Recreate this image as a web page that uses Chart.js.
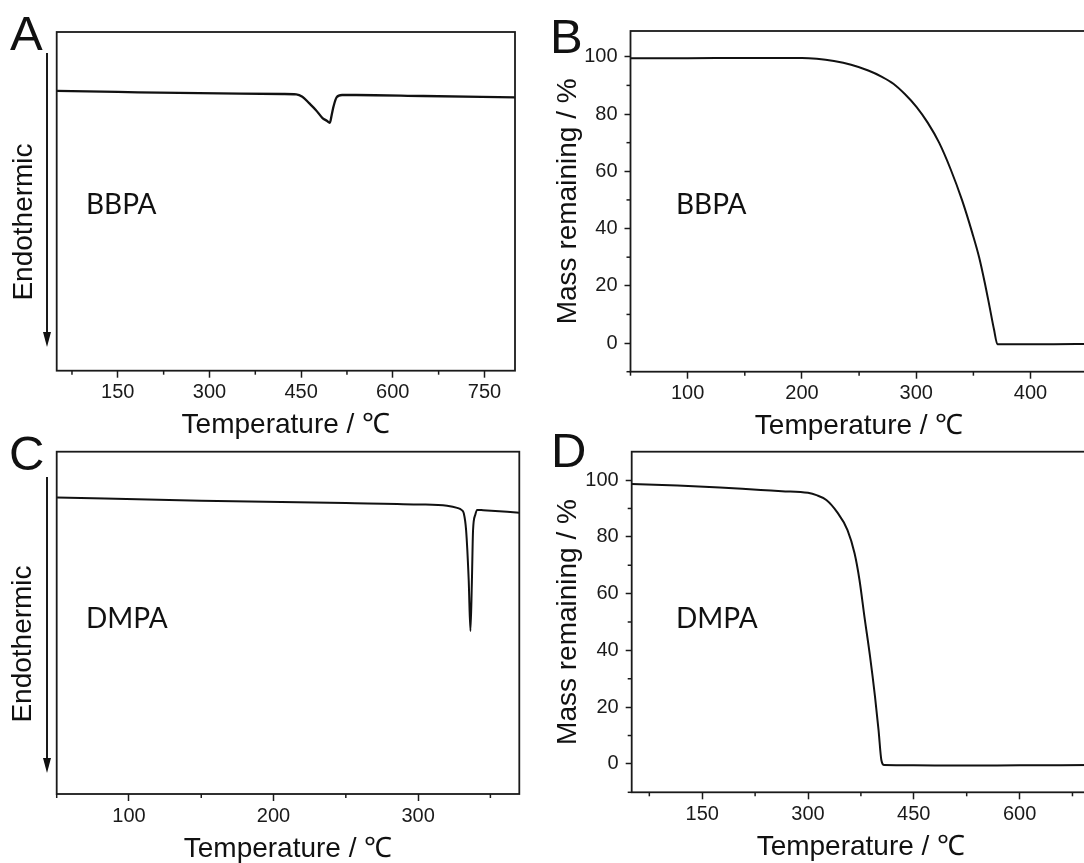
<!DOCTYPE html>
<html lang="en">
<head>
<meta charset="UTF-8">
<title>BBPA / DMPA thermal analysis</title>
<script src="https://cdn.jsdelivr.net/npm/chart.js"></script>
<style>
  html, body { margin: 0; padding: 0; background: #fff; overflow: hidden; }
  #page { position: relative; width: 1084px; height: 863px; overflow: hidden; background: #fff; }
  canvas { position: absolute; }
</style>
</head>
<body>
<div id="page">
  <canvas id="chartA" width="540" height="440" style="left:0;top:0"></canvas>
  <canvas id="chartB" width="560" height="440" style="left:540px;top:0"></canvas>
  <canvas id="chartC" width="540" height="433" style="left:0;top:430px"></canvas>
  <canvas id="chartD" width="560" height="433" style="left:540px;top:430px"></canvas>
</div>
<script>
// A: DSC of BBPA (heat flow, arbitrary units: 0 = bottom of frame, 100 = top)
const dscBbpaTemp = [50, 150, 250, 350, 420, 442, 452, 463, 474, 485, 492, 497, 500, 503, 508, 517, 540, 650, 800]
const dscBbpaFlow = [82.6, 82.3, 82.0, 81.8, 81.7, 81.6, 80.9, 79.0, 77.0, 74.6, 73.8, 73.2, 75.5, 78.0, 80.7, 81.4, 81.4, 81.1, 80.7]

// B: TGA of BBPA
const tgaBbpaTemp = [50, 100, 150, 200, 213, 228, 243, 258, 270, 280, 290, 300, 310, 320, 330, 340, 349, 355, 360, 364, 368, 371, 380, 420, 450]
const tgaBbpaMass = [99.5, 99.5, 99.6, 99.6, 99.3, 98.5, 97.2, 95.2, 93.0, 90.6, 87.0, 82.6, 77.0, 70.0, 60.8, 50.0, 38.5, 30.0, 21.0, 13.0, 4.8, -0.4, -0.4, -0.4, -0.3]

// C: DSC of DMPA
const dscDmpaTemp = [50, 150, 250, 300, 320, 327, 330, 331.6, 333.2, 335, 336.2, 337.2, 338, 339.5, 340.8, 345, 370]
const dscDmpaFlow = [86.6, 85.7, 85.0, 84.6, 84.2, 83.6, 83.0, 82.0, 77.1, 62.5, 47.6, 62.0, 77.0, 81.5, 83.0, 82.9, 82.2]

// D: TGA of DMPA
const tgaDmpaTemp = [50, 115, 175, 233, 263, 300, 312, 326, 341, 356, 366, 373, 380, 388, 395, 400, 404, 408, 450, 510, 600, 700]
const tgaDmpaMass = [98.6, 98.1, 97.4, 96.5, 96.1, 95.5, 94.7, 93.0, 88.8, 82.4, 74.2, 64.8, 51.9, 37.8, 23.7, 12.0, 1.4, -0.4, -0.5, -0.6, -0.5, -0.4]

// tick labels
const ticksA = [150, 300, 450, 600, 750]
const minorA = [75, 225, 375, 525, 675]
const ticksB = [100, 200, 300, 400]
const minorB = [50, 150, 250, 350]
const ticksC = [100, 200, 300]
const minorC = [50, 150, 250, 350]
const ticksD = [150, 300, 450, 600]
const minorD = [75, 225, 375, 525, 675]
const massTicks = [0, 20, 40, 60, 80, 100]
const massMinor = [-10, 10, 30, 50, 70, 90]

const SANS = '"Liberation Sans", Arimo, Arial, sans-serif'
const INK = '#1a1a1a'
Chart.defaults.font.family = SANS
Chart.defaults.color = INK

// frame, minor ticks, panel letter, sample name, endothermic arrow
const decor = {
  id: 'decor',
  afterDraw(chart, args, o) {
    const { ctx, chartArea: a } = chart
    const x = chart.scales.x, y = chart.scales.y
    ctx.save()
    ctx.strokeStyle = INK
    ctx.lineWidth = 1.5
    o.xMinor.forEach(v => {
      const p = x.getPixelForValue(v)
      ctx.beginPath(); ctx.moveTo(p, a.bottom); ctx.lineTo(p, a.bottom + 4); ctx.stroke()
    })
    ;(o.yMinor || []).forEach(v => {
      const p = y.getPixelForValue(v)
      ctx.beginPath(); ctx.moveTo(a.left - 4, p); ctx.lineTo(a.left, p); ctx.stroke()
    })
    ctx.lineWidth = 1.8
    ctx.strokeRect(a.left, a.top, a.right - a.left, a.bottom - a.top)

    ctx.fillStyle = '#111'
    ctx.textBaseline = 'alphabetic'
    ctx.textAlign = 'left'
    ctx.font = '49px ' + SANS
    ctx.fillText(o.letter, o.letterX, o.letterY)
    ctx.font = '28px Lato, "Open Sans", sans-serif'
    ctx.fillText(o.sample, o.sampleX, o.sampleY)

    if (o.arrow) {
      const [ax, y0, y1] = o.arrow
      ctx.lineWidth = 2
      ctx.beginPath(); ctx.moveTo(ax, y0); ctx.lineTo(ax, y1 - 12); ctx.stroke()
      ctx.beginPath(); ctx.moveTo(ax - 4, y1 - 15); ctx.lineTo(ax + 4, y1 - 15); ctx.lineTo(ax, y1); ctx.closePath(); ctx.fill()
      ctx.save()
      ctx.translate(o.endoX, o.endoY)
      ctx.rotate(-Math.PI / 2)
      ctx.textAlign = 'center'
      ctx.textBaseline = 'middle'
      ctx.font = '28px ' + SANS
      ctx.fillText('Endothermic', 0, 0)
      ctx.restore()
    }
    ctx.restore()
  }
}

function makePanel(id, p) {
  const yScale = p.massAxis ? {
    min: p.yMin, max: p.yMax,
    afterBuildTicks: s => { s.ticks = massTicks.map(v => ({ value: v })) },
    afterFit: s => { s.width = p.yWidth },
    grid: { drawOnChartArea: false, drawTicks: true, tickLength: 6, tickWidth: 1.5, tickColor: INK },
    border: { display: false },
    ticks: { font: { size: 20 }, color: INK, padding: 7 },
    title: { display: true, text: 'Mass remaining / %', color: '#111', font: { size: 28, lineHeight: 1 }, padding: { top: 14, bottom: 0 } }
  } : { display: false, min: 0, max: 100 }

  new Chart(document.getElementById(id), {
    type: 'line',
    data: {
      datasets: [{
        data: p.temp.map((t, i) => ({ x: t, y: p.val[i] })),
        borderColor: '#111',
        borderWidth: p.lineWidth,
        pointRadius: 0,
        cubicInterpolationMode: 'monotone',
        fill: false
      }]
    },
    options: {
      responsive: false,
      animation: false,
      events: [],
      layout: { padding: p.padding },
      plugins: {
        legend: { display: false },
        tooltip: { enabled: false },
        decor: p.decor
      },
      scales: {
        x: {
          type: 'linear', min: p.xMin, max: p.xMax,
          afterBuildTicks: s => { s.ticks = p.xTicks.map(v => ({ value: v })) },
          afterFit: s => { s.height = p.xHeight },
          grid: { drawOnChartArea: false, drawTicks: true, tickLength: 7, tickWidth: 1.5, tickColor: INK },
          border: { display: false },
          ticks: { font: { size: 20 }, color: INK, padding: 3, maxRotation: 0, autoSkip: false },
          title: { display: true, text: 'Temperature / ℃', color: '#111', font: { size: 28, lineHeight: 1 }, padding: { top: 0, bottom: p.titlePad } }
        },
        y: yScale
      }
    },
    plugins: [decor]
  })
}

makePanel('chartA', {
  temp: dscBbpaTemp, val: dscBbpaFlow, lineWidth: 2.3,
  xMin: 50, xMax: 800, xTicks: ticksA, xHeight: 69.3, titlePad: 1,
  padding: { left: 56.7, top: 32, right: 25, bottom: 0 },
  decor: { xMinor: minorA, letter: 'A', letterX: 10, letterY: 50, sample: 'BBPA', sampleX: 86, sampleY: 214,
           arrow: [47, 53, 347], endoX: 24, endoY: 222 }
})

makePanel('chartB', {
  temp: tgaBbpaTemp, val: tgaBbpaMass, lineWidth: 2,
  xMin: 50, xMax: 450, xTicks: ticksB, xHeight: 68.3, titlePad: 0,
  massAxis: true, yMin: -10, yMax: 109, yWidth: 90.5,
  padding: { left: 0, top: 31, right: 12.3, bottom: 0 },
  decor: { xMinor: minorB, yMinor: massMinor, letter: 'B', letterX: 10, letterY: 53, sample: 'BBPA', sampleX: 136, sampleY: 214 }
})

makePanel('chartC', {
  temp: dscDmpaTemp, val: dscDmpaFlow, lineWidth: 2,
  xMin: 50, xMax: 370, xTicks: ticksC, xHeight: 69, titlePad: 0,
  padding: { left: 56.7, top: 21.7, right: 20.7, bottom: 0 },
  decor: { xMinor: minorC, letter: 'C', letterX: 9, letterY: 40, sample: 'DMPA', sampleX: 86, sampleY: 198,
           arrow: [47, 47, 343], endoX: 23, endoY: 214 }
})

makePanel('chartD', {
  temp: tgaDmpaTemp, val: tgaDmpaMass, lineWidth: 2,
  xMin: 50, xMax: 700, xTicks: ticksD, xHeight: 70.7, titlePad: 1.5,
  massAxis: true, yMin: -10, yMax: 110, yWidth: 91.7,
  padding: { left: 0, top: 21.7, right: 9.9, bottom: 0 },
  decor: { xMinor: minorD, yMinor: massMinor, letter: 'D', letterX: 11, letterY: 37, sample: 'DMPA', sampleX: 136, sampleY: 198 }
})
</script>
</body>
</html>
